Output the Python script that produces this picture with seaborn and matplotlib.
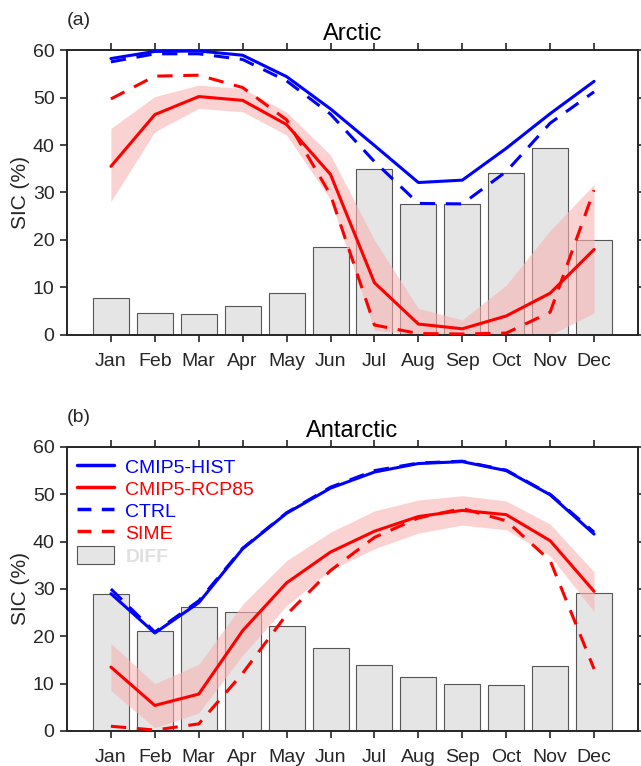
import numpy as np
import pandas as pd
import matplotlib
matplotlib.use("Agg")
import matplotlib.pyplot as plt
import seaborn as sns
from matplotlib.lines import Line2D
from matplotlib.patches import Patch

sns.set_theme(style="white")
plt.rcParams['font.family'] = ['Liberation Sans', 'DejaVu Sans']

months = ["Jan", "Feb", "Mar", "Apr", "May", "Jun", "Jul", "Aug", "Sep", "Oct", "Nov", "Dec"]

# Arctic
arc_hist = [58.2, 59.7, 59.8, 58.9, 54.4, 47.6, 39.9, 32.1, 32.6, 39.3, 46.6, 53.4]
arc_ctrl = [57.5, 59.2, 59.2, 58.0, 53.5, 46.5, 36.5, 27.7, 27.6, 34.4, 44.6, 51.2]
arc_rcp = [35.5, 46.4, 50.2, 49.4, 44.3, 33.8, 11.0, 2.3, 1.3, 4.0, 8.8, 18.0]
arc_rcp_lo = [28.1, 42.8, 47.7, 47.0, 42.1, 28.5, 1.0, 0.0, 0.0, 0.0, 0.0, 4.6]
arc_rcp_hi = [43.5, 50.2, 52.6, 51.9, 46.9, 37.9, 20.0, 5.6, 3.2, 10.5, 22.0, 31.7]
arc_sime = [49.7, 54.5, 54.7, 52.1, 45.3, 29.5, 2.1, 0.3, 0.2, 0.4, 4.8, 30.5]
arc_diff = [7.7, 4.6, 4.4, 6.0, 8.8, 18.6, 34.9, 27.5, 27.5, 34.2, 39.3, 20.0]

# Antarctic
ant_hist = [29.0, 20.7, 27.1, 38.5, 46.0, 51.3, 54.7, 56.5, 56.9, 55.0, 49.9, 41.6]
ant_ctrl = [30.0, 20.9, 27.5, 38.6, 46.1, 51.5, 55.0, 56.6, 57.0, 55.1, 50.0, 42.0]
ant_rcp = [13.5, 5.4, 7.8, 21.2, 31.3, 37.8, 42.2, 45.3, 46.6, 45.7, 40.2, 29.5]
ant_rcp_lo = [8.5, 0.7, 3.8, 16.0, 26.5, 34.0, 38.5, 41.8, 43.5, 42.5, 37.0, 25.2]
ant_rcp_hi = [18.5, 10.0, 14.1, 26.8, 36.0, 42.0, 46.5, 48.8, 49.7, 48.6, 43.7, 33.6]
ant_sime = [1.0, 0.2, 1.5, 12.2, 24.6, 33.9, 40.9, 45.0, 47.0, 44.4, 36.0, 13.1]
ant_diff = [28.9, 21.2, 26.1, 25.2, 22.2, 17.6, 14.0, 11.4, 10.0, 9.7, 13.8, 29.2]

BLUE = "#0000ff"
RED = "#ff0000"
SHADE = "#f9b4b4"
BAR = "#e5e5e5"
BAREDGE = "#555555"

fig = plt.figure(figsize=(6.41, 7.66), dpi=100)
ax_a = fig.add_axes([0.1045, 0.5627, 0.8908, 0.372])
ax_b = fig.add_axes([0.1045, 0.0457, 0.8908, 0.3708])


def draw(ax, hist, ctrl, rcp, lo, hi, sime, diff, title, tag, legend=False):
    x = np.arange(12)
    df = pd.DataFrame({"m": x, "hist": hist, "ctrl": ctrl, "rcp": rcp,
                       "sime": sime, "diff": diff})
    sns.barplot(data=df, x="m", y="diff", ax=ax, color=BAR, width=0.82,
                edgecolor=BAREDGE, linewidth=0.8, saturation=1, zorder=1)
    ax.fill_between(x, lo, hi, color=SHADE, alpha=0.6, linewidth=0, zorder=2)
    sns.lineplot(data=df, x="m", y="hist", ax=ax, color=BLUE, lw=2.2, zorder=4)
    sns.lineplot(data=df, x="m", y="rcp", ax=ax, color=RED, lw=2.2, zorder=4)
    sns.lineplot(data=df, x="m", y="ctrl", ax=ax, color=BLUE, lw=2.2, zorder=4)
    ax.lines[-1].set_dashes([5, 3.5])
    sns.lineplot(data=df, x="m", y="sime", ax=ax, color=RED, lw=2.2, zorder=4)
    ax.lines[-1].set_dashes([5, 3.5])
    ax.set_xlim(-1, 12)
    ax.set_ylim(0, 60)
    ax.set_yticks([0, 10, 20, 30, 40, 50, 60])
    ax.set_xticks(x)
    ax.set_xticklabels(months)
    ax.set_xlabel("")
    ax.set_ylabel("SIC (%)", fontsize=15, labelpad=2)
    ax.tick_params(axis="both", direction="out", length=5, width=1.2,
                   labelsize=14, top=True, right=True, left=True, bottom=True,
                   colors="#262626", labelcolor="#262626", pad=4)
    ax.tick_params(axis="x", pad=8)
    for s in ax.spines.values():
        s.set_linewidth(1.4)
        s.set_color("#262626")
        s.set_visible(True)
    ax.set_title(title, fontsize=17, pad=7, color="black")
    ax.text(0.0, 1.105, tag, transform=ax.transAxes, fontsize=14, ha="left", va="center")
    if legend:
        handles = [Line2D([], [], color=BLUE, lw=2.5),
                   Line2D([], [], color=RED, lw=2.5),
                   Line2D([], [], color=BLUE, lw=2.5, dashes=[4, 3]),
                   Line2D([], [], color=RED, lw=2.5, dashes=[4, 3]),
                   Patch(facecolor=BAR, edgecolor=BAREDGE, linewidth=0.8)]
        labels = ["CMIP5-HIST", "CMIP5-RCP85", "CTRL", "SIME", "DIFF"]
        leg = ax.legend(handles, labels, loc="upper left", frameon=False,
                        fontsize=14, handlelength=1.9, handleheight=1.1,
                        handletextpad=0.6, labelspacing=0.12, borderaxespad=0.1,
                        bbox_to_anchor=(0.0, 1.0))
        cols = [BLUE, RED, BLUE, RED, "#e0e0e0"]
        for t, c in zip(leg.get_texts(), cols):
            t.set_color(c)
        leg.get_texts()[-1].set_fontweight("bold")
    else:
        lg = ax.get_legend()
        if lg:
            lg.remove()


draw(ax_a, arc_hist, arc_ctrl, arc_rcp, arc_rcp_lo, arc_rcp_hi, arc_sime, arc_diff,
     "Arctic", "(a)")
draw(ax_b, ant_hist, ant_ctrl, ant_rcp, ant_rcp_lo, ant_rcp_hi, ant_sime, ant_diff,
     "Antarctic", "(b)", legend=True)

fig.savefig("out.png", dpi=100)
